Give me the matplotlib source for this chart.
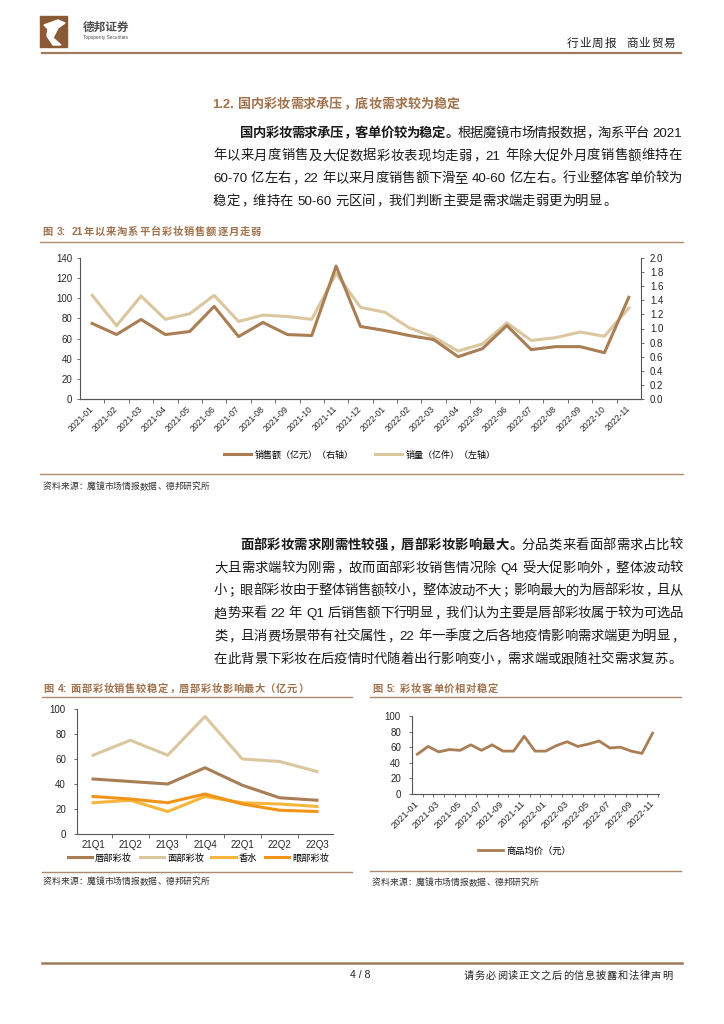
import numpy as np
import matplotlib
matplotlib.use('Agg')
import matplotlib.pyplot as plt
from matplotlib.lines import Line2D
from matplotlib.patches import Rectangle, Polygon

W, H = 724, 1024
CJK = 'Noto Sans CJK SC'
LAT = 'Liberation Sans'
plt.rcParams['font.family'] = [LAT, CJK]
plt.rcParams['axes.unicode_minus'] = False

# ---- data ----
months = ['2021-01', '2021-02', '2021-03', '2021-04', '2021-05', '2021-06',
          '2021-07', '2021-08', '2021-09', '2021-10', '2021-11', '2021-12',
          '2022-01', '2022-02', '2022-03', '2022-04', '2022-05', '2022-06',
          '2022-07', '2022-08', '2022-09', '2022-10', '2022-11']
sales = [75, 64, 79, 64, 67, 92, 62, 76, 64, 63, 132, 72,
         68, 63, 59, 42, 50, 73, 49, 52, 52, 46, 101]
volume = [1.47, 1.04, 1.46, 1.13, 1.21, 1.47, 1.10, 1.19, 1.17, 1.13, 1.78, 1.30,
          1.23, 1.01, 0.88, 0.68, 0.78, 1.08, 0.83, 0.87, 0.95, 0.89, 1.29]

quarters = ['21Q1', '21Q2', '21Q3', '21Q4', '22Q1', '22Q2', '22Q3']
lip = [44, 42, 40, 53, 39, 29, 27]
face = [63, 75, 63, 94, 60, 58, 50]
perfume = [25, 27, 18, 30, 25, 24, 22]
eye = [30, 28, 25, 32, 24, 19, 18]

price = [51, 61, 54, 57, 56, 63, 56, 63, 55, 55, 74, 55,
         55, 62, 67, 61, 64, 68, 59, 60, 55, 52, 78]

BROWN = '#A97E55'
BEIGE = '#DAC79F'
PERF = '#F6B63E'
EYE = '#F29418'
TITLE = '#A0714B'
RULE = '#B08B6B'
INK = '#1a1a1a'
AXC = '#555555'

fig = plt.figure(figsize=(W / 100, H / 100), dpi=100)
renderer = fig.canvas.get_renderer()


def fx(x):
    return x / W


def fy(y):
    return 1 - y / H


def hline(x0, x1, y, color=RULE, lw=1.0):
    fig.add_artist(Line2D([fx(x0), fx(x1)], [fy(y), fy(y)], color=color,
                          lw=lw, transform=fig.transFigure))


LEFT_PUNCT = '，。、；：！？）'
RIGHT_PUNCT = '（'


def split_tokens(parts):
    toks = []
    for txt, weight in parts:
        buf = ''
        for ch in txt:
            if ch.isascii() and ch != ' ':
                buf += ch
                continue
            if buf:
                toks.append(('lat', buf, weight))
                buf = ''
            toks.append(('sp' if ch == ' ' else 'cjk', ch, weight))
        if buf:
            toks.append(('lat', buf, weight))
    return toks


def lat_width(s, size, weight):
    t = fig.text(0, 0, s, fontsize=size, family=LAT, weight=weight)
    w = t.get_window_extent(renderer).width
    t.remove()
    return w


def write(x0, yc, parts, size, x1=None, color=INK):
    # lays a line out glyph by glyph, stretched to x1 when given
    if isinstance(parts, str):
        parts = [(parts, 'normal')]
    em = size * 100 / 72
    toks = split_tokens(parts)
    widths = []
    for kind, s, weight in toks:
        if kind == 'cjk':
            widths.append(em)
        elif kind == 'sp':
            widths.append(0.3 * em)
        else:
            widths.append(lat_width(s, size, weight))
    gap = 0.0
    if x1 is not None and len(toks) > 1:
        gap = (x1 - x0 - sum(widths)) / (len(toks) - 1)
    base = fy(yc + 0.36 * em)
    x = x0
    for (kind, s, weight), w in zip(toks, widths):
        if kind == 'lat':
            fig.text(fx(x), base, s, fontsize=size, family=LAT, weight=weight,
                     color=color, ha='left', va='baseline')
        elif kind == 'cjk':
            if s in LEFT_PUNCT:
                px, ha = x + 0.1 * em, 'left'
            elif s in RIGHT_PUNCT:
                px, ha = x + 0.9 * em, 'right'
            else:
                px, ha = x + 0.5 * em, 'center'
            fig.text(fx(px), base, s, fontsize=size, family=CJK, weight=weight,
                     color=color, ha=ha, va='baseline')
        x += w + gap


# ---- page header ----
fig.add_artist(Rectangle((fx(40), fy(47)), 27 / W, 31 / H, color='#8A5A36',
                         transform=fig.transFigure))
fig.add_artist(Polygon([(fx(44), fy(25)), (fx(58), fy(20)), (fx(65), fy(23)),
                        (fx(58), fy(28)), (fx(53), fy(38)), (fx(61), fy(45)),
                        (fx(53), fy(45)), (fx(47), fy(36)), (fx(48), fy(29))],
                       closed=True, color='white', transform=fig.transFigure))
fig.text(fx(83), fy(30.5), '德邦证券', fontsize=8.4, family=CJK, weight='bold',
         color='#4d4d4d', va='baseline')
fig.text(fx(83), fy(39), 'Topsperity Securities', fontsize=3.4, family=LAT,
         color='#4d4d4d', va='baseline')
write(567, 43, '行业周报  商业贸易', 8.4, x1=675, color='#222222')
hline(42, 681, 53, color='#A27B5C', lw=1.6)

# ---- section 1.2 ----
write(212, 103, [('1.2. 国内彩妆需求承压，底妆需求较为稳定', 'bold')], 9.4, color=TITLE)

p1 = [
    [('国内彩妆需求承压，客单价较为稳定。', 'bold'), ('根据魔镜市场情报数据，淘系平台 2021', 'normal')],
    '年以来月度销售及大促数据彩妆表现均走弱，21 年除大促外月度销售额维持在',
    '60-70 亿左右，22 年以来月度销售额下滑至 40-60 亿左右。行业整体客单价较为',
    '稳定，维持在 50-60 元区间，我们判断主要是需求端走弱更为明显。',
]
for i, line in enumerate(p1):
    x0 = 240 if i == 0 else 213
    x1 = 682 if i < len(p1) - 1 else None
    write(x0, 132 + 22.7 * i, line, 9.6, x1=x1)

# ---- figure 3 ----
write(42, 231, [('图 3: 21年以来淘系平台彩妆销售额逐月走弱', 'bold')], 7.4, x1=261, color=TITLE)
hline(40, 683, 242)

ax3 = fig.add_axes([fx(80), fy(399), (641 - 80) / W, (399 - 258) / H])
x3 = np.arange(len(months))
ln_sales, = ax3.plot(x3, sales, color=BROWN, lw=2.2)
ax3r = ax3.twinx()
ln_vol, = ax3r.plot(x3, volume, color=BEIGE, lw=2.2)
ax3.set_zorder(ax3r.get_zorder() + 1)
ax3.patch.set_visible(False)

ax3.set_xlim(-0.5, len(months) - 0.5)
ax3.set_ylim(0, 140)
ax3.set_yticks(range(0, 141, 20))
ax3r.set_ylim(0, 2.0)
ax3r.set_yticks(np.arange(0, 2.01, 0.2))
ax3r.yaxis.set_major_formatter('{x:.1f}')
ax3.set_xticks(np.arange(0.5, len(months) - 1, 1))
ax3.set_xticklabels([])
ax3.set_xticks(x3, minor=True)
ax3.set_xticklabels(months, minor=True, rotation=45, ha='right', va='center',
                    rotation_mode='anchor', fontsize=6.2)
for a in (ax3, ax3r):
    for s in a.spines.values():
        s.set_color(AXC)
        s.set_linewidth(0.8)
    a.spines['top'].set_visible(False)
ax3.spines['right'].set_visible(False)
ax3r.spines['left'].set_visible(False)
ax3.tick_params(axis='x', which='major', length=3, width=0.6, color=AXC)
ax3.tick_params(axis='x', which='minor', length=0, pad=6, labelcolor='#262626')
ax3.tick_params(axis='y', length=2.5, width=0.6, color=AXC, labelsize=7,
                pad=3, labelcolor='#262626')
ax3r.tick_params(axis='y', length=2.5, width=0.6, color=AXC, labelsize=7,
                 pad=4, labelcolor='#262626')

fig.legend([ln_sales, ln_vol], ['销售额（亿元）（右轴）', '销量（亿件）（左轴）'],
           loc='center', bbox_to_anchor=(fx(360), fy(455)), ncol=2, frameon=False,
           prop={'family': [CJK], 'size': 6.5}, handlelength=2.9,
           handletextpad=0.45, columnspacing=2.4)
hline(40, 683, 474)
write(43, 486, '资料来源：魔镜市场情报数据、德邦研究所', 6.3, color='#333333')

# ---- paragraph 2 ----
p2 = [
    [('面部彩妆需求刚需性较强，唇部彩妆影响最大。', 'bold'), ('分品类来看面部需求占比较', 'normal')],
    '大且需求端较为刚需，故而面部彩妆销售情况除 Q4 受大促影响外，整体波动较',
    '小；眼部彩妆由于整体销售额较小，整体波动不大；影响最大的为唇部彩妆，且从',
    '趋势来看 22 年 Q1 后销售额下行明显，我们认为主要是唇部彩妆属于较为可选品',
    '类，且消费场景带有社交属性，22 年一季度之后各地疫情影响需求端更为明显，',
    '在此背景下彩妆在后疫情时代随着出行影响变小，需求端或跟随社交需求复苏。',
]
for i, line in enumerate(p2):
    x0 = 240 if i == 0 else 214
    x1 = 683 if i < len(p2) - 1 else None
    write(x0, 544 + 22.8 * i, line, 9.6, x1=x1)

# ---- figure 4 ----
write(43, 688, [('图 4: 面部彩妆销售较稳定，唇部彩妆影响最大（亿元）', 'bold')], 7.4,
      x1=308, color=TITLE)
hline(42, 352, 697)

ax4 = fig.add_axes([fx(77), fy(834), (333 - 77) / W, (834 - 709) / H])
x4 = np.arange(len(quarters))
h_lip, = ax4.plot(x4, lip, color=BROWN, lw=2.2)
h_face, = ax4.plot(x4, face, color=BEIGE, lw=2.2)
h_perf, = ax4.plot(x4, perfume, color=PERF, lw=2.2)
h_eye, = ax4.plot(x4, eye, color=EYE, lw=2.2)
ax4.set_xlim(-0.43, len(quarters) - 0.57)
ax4.set_ylim(0, 100)
ax4.set_yticks(range(0, 101, 20))
ax4.set_xticks(np.arange(0.5, len(quarters) - 1, 1))
ax4.set_xticklabels([])
ax4.set_xticks(x4, minor=True)
ax4.set_xticklabels(quarters, minor=True, fontsize=7)
for side in ('top', 'right'):
    ax4.spines[side].set_visible(False)
for side in ('left', 'bottom'):
    ax4.spines[side].set_color(AXC)
    ax4.spines[side].set_linewidth(0.8)
ax4.tick_params(axis='x', which='major', length=3, width=0.6, color=AXC)
ax4.tick_params(axis='x', which='minor', length=0, pad=4.5, labelcolor='#262626')
ax4.tick_params(axis='y', length=2, width=0.6, color=AXC, labelsize=7,
                pad=6, labelcolor='#262626')
fig.legend([h_lip, h_face, h_perf, h_eye], ['唇部彩妆', '面部彩妆', '香水', '眼部彩妆'],
           loc='center', bbox_to_anchor=(fx(198.5), fy(858)), ncol=4, frameon=False,
           prop={'family': [CJK], 'size': 6.7}, handlelength=2.6,
           handletextpad=0.35, columnspacing=0.8)
hline(42, 352, 872)
write(43, 881, '资料来源：魔镜市场情报数据、德邦研究所', 6.3, color='#333333')

# ---- figure 5 ----
write(372, 688, [('图 5: 彩妆客单价相对稳定', 'bold')], 7.4, x1=498, color=TITLE)
hline(370, 681, 697)

ax5 = fig.add_axes([fx(412), fy(794), (659 - 412) / W, (794 - 716) / H])
h_price, = ax5.plot(x3, price, color=BROWN, lw=2.0)
ax5.set_xlim(-0.5, len(months) - 0.4)
ax5.set_ylim(0, 100)
ax5.set_yticks(range(0, 101, 20))
ax5.set_xticks(np.arange(0.5, len(months), 1))
ax5.set_xticklabels([])
ax5.set_xticks(x3[::2], minor=True)
ax5.set_xticklabels(months[::2], minor=True, rotation=45, ha='right', va='center',
                    rotation_mode='anchor', fontsize=6.8)
for side in ('top', 'right'):
    ax5.spines[side].set_visible(False)
for side in ('left', 'bottom'):
    ax5.spines[side].set_color(AXC)
    ax5.spines[side].set_linewidth(0.8)
ax5.tick_params(axis='x', which='major', length=2.5, width=0.6, color=AXC)
ax5.tick_params(axis='x', which='minor', length=0, pad=6, labelcolor='#262626')
ax5.tick_params(axis='y', length=2, width=0.6, color=AXC, labelsize=7,
                pad=6, labelcolor='#262626')
fig.legend([h_price], ['商品均价（元）'], loc='center',
           bbox_to_anchor=(fx(524.5), fy(851)), frameon=False,
           prop={'family': [CJK], 'size': 6.7}, handlelength=2.7, handletextpad=0.4)
hline(370, 681, 871)
write(372, 882, '资料来源：魔镜市场情报数据、德邦研究所', 6.3, color='#333333')

# ---- footer ----
hline(42, 682, 963, color='#A27B5C', lw=1.8)
fig.text(fx(360), fy(978.5), '4 / 8', fontsize=7.6, family=LAT, color='#222222',
         ha='center', va='baseline')
write(464, 975, '请务必阅读正文之后的信息披露和法律声明', 7.4, x1=672, color='#222222')

fig.savefig('out.png', dpi=100, facecolor='white')
